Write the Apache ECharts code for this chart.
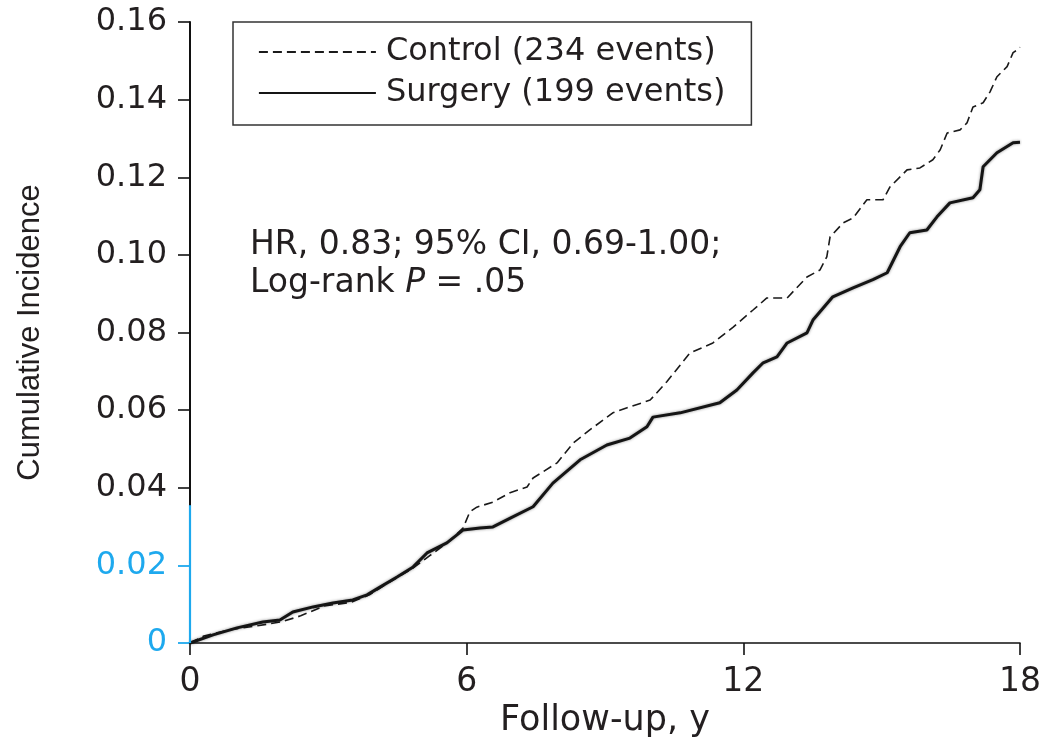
<!DOCTYPE html>
<html>
<head>
<meta charset="utf-8">
<script src="https://cdn.jsdelivr.net/npm/echarts@6/dist/echarts.min.js"></script>
<style>
html,body{margin:0;padding:0;background:#fff;}
#chart{width:1045px;height:737px;}
</style>
</head>
<body>
<div id="chart"></div>
<script>
// ---- data ----
const seriesNames = ['Control (234 events)', 'Surgery (199 events)'];
const xTicks = [0, 6, 12, 18];
const yTicks = [0, 0.02, 0.04, 0.06, 0.08, 0.10, 0.12, 0.14, 0.16];
const controlData = [
  [0,0],[0.3,0.0018],[0.9,0.0035],[1.5,0.0045],[2.0,0.0055],[2.4,0.0070],[2.9,0.0095],
  [3.5,0.0105],[3.9,0.0125],[4.3,0.0155],[4.8,0.019],[5.2,0.0225],[5.6,0.026],[5.92,0.0296],
  [6.07,0.0338],[6.22,0.0350],[6.57,0.0363],[6.94,0.0387],[7.31,0.0402],[7.44,0.0425],
  [7.96,0.0464],[8.31,0.0515],[8.67,0.0549],[9.17,0.0593],[9.48,0.0606],[9.98,0.0626],
  [10.34,0.0673],[10.84,0.0747],[11.34,0.0773],[11.78,0.0814],[12.21,0.0858],[12.51,0.0889],
  [12.95,0.0889],[13.38,0.0943],[13.66,0.0961],[13.81,0.0995],[13.88,0.1046],[14.16,0.1082],
  [14.38,0.1095],[14.68,0.1142],[15.03,0.1142],[15.18,0.1175],[15.55,0.1219],[15.83,0.1224],
  [16.11,0.1245],[16.27,0.1271],[16.42,0.1314],[16.70,0.1322],[16.85,0.1340],[16.98,0.1381],
  [17.20,0.1392],[17.35,0.1420],[17.50,0.1459],[17.72,0.1485],[17.85,0.1521],[17.94,0.1528],
  [18.0,0.1535]
];
const surgeryData = [
  [0,0],[0.5,0.0021],[1.02,0.0039],[1.58,0.0054],[1.95,0.0059],[2.23,0.0080],[2.67,0.0093],
  [3.10,0.0103],[3.53,0.0111],[3.84,0.0124],[4.12,0.0144],[4.49,0.0170],[4.84,0.0196],
  [5.14,0.0232],[5.57,0.0258],[5.92,0.0291],[6.29,0.0296],[6.57,0.0299],[7.00,0.0325],
  [7.44,0.0351],[7.87,0.0412],[8.46,0.0472],[9.04,0.0510],[9.54,0.0528],[9.91,0.0557],
  [10.04,0.0582],[10.63,0.0593],[11.49,0.0619],[11.86,0.0652],[12.21,0.0696],[12.43,0.0722],
  [12.73,0.0737],[12.95,0.0773],[13.38,0.0799],[13.51,0.0832],[13.94,0.0892],[14.38,0.0915],
  [14.81,0.0936],[15.12,0.0954],[15.40,0.1021],[15.61,0.1057],[15.98,0.1064],[16.20,0.1098],
  [16.48,0.1134],[16.98,0.1147],[17.13,0.1168],[17.20,0.1227],[17.50,0.1263],[17.85,0.1289],
  [18.0,0.1290]
];
const blueRange = [0, 0.0355];      // highlighted segment of the y axis
const blueTicks = [0, 0.02];
const annotationLines = ['HR, 0.83; 95% CI, 0.69-1.00;', 'Log-rank ', 'P', ' = .05'];

// ---- styling ----
const FONT = 'DejaVu Sans';
const TEXT = '#231f20';
const BLUE = '#1ea9ee';

const chart = echarts.init(document.getElementById('chart'), null, {renderer: 'canvas'});
const blackTicks = yTicks.filter(v => blueTicks.indexOf(v) < 0);

const option = {
  animation: false,
  backgroundColor: '#fff',
  grid: {left: 190, right: 25, top: 22, bottom: 94, containLabel: false, outerBoundsMode: 'none'},
  legend: {
    data: seriesNames,
    orient: 'vertical',
    left: 233, top: 22,
    padding: [14, 26, 16, 25],
    itemWidth: 117, itemHeight: 14, itemGap: 9,
    borderColor: '#333', borderWidth: 1.5,
    lineStyle: {width: 1.8, shadowBlur: 0},
    itemStyle: {color: 'rgba(0,0,0,0)', borderWidth: 0, opacity: 0},
    textStyle: {fontFamily: FONT, fontSize: 32, color: TEXT, lineHeight: 32, padding: [0,0,0,5]},
    selectedMode: false
  },
  xAxis: {
    type: 'value', min: 0, max: 18, interval: 6,
    name: 'Follow-up, y', nameLocation: 'middle', nameGap: 57,
    nameTextStyle: {fontFamily: FONT, fontSize: 35, color: TEXT},
    axisLine: {lineStyle: {color: '#111', width: 1.6}},
    axisTick: {show: true, inside: false, length: 12, lineStyle: {color: '#111', width: 1.6}},
    axisLabel: {fontFamily: FONT, fontSize: 33, color: TEXT, margin: 23,
      formatter: v => String(v)},
    splitLine: {show: false}
  },
  yAxis: [{
    type: 'value', min: 0, max: 0.16, interval: 0.02,
    name: 'Cumulative Incidence', nameLocation: 'middle', nameGap: 144, nameRotate: 90,
    nameTextStyle: {fontFamily: 'Liberation Sans', fontSize: 31, color: TEXT},
    axisLine: {show: true, lineStyle: {color: '#111', width: 2}},
    axisTick: {show: true, length: 12, customValues: blackTicks, lineStyle: {color: '#111', width: 1.6}},
    axisLabel: {fontFamily: FONT, fontSize: 32, margin: 23,
      color: v => (Number(v) <= 0.02 + 1e-9 ? BLUE : TEXT),
      formatter: v => (v === 0 ? '0' : v.toFixed(2))},
    splitLine: {show: false}
  }, {
    type: 'value', min: 0, max: 0.16, interval: 0.02, position: 'left',
    axisLine: {show: false},
    axisTick: {show: true, length: 12, customValues: blueTicks, lineStyle: {color: BLUE, width: 1.8}},
    axisLabel: {show: false},
    splitLine: {show: false}
  }],
  graphic: [{
    type: 'text', left: 250, top: 226, z: 10,
    style: {
      text: annotationLines[0] + '\n' + annotationLines[1] + '{i|' + annotationLines[2] + '}' + annotationLines[3],
      font: '33px ' + FONT, fill: TEXT, lineHeight: 38,
      rich: {i: {fontStyle: 'italic', fontFamily: FONT, fontSize: 33, fill: TEXT, lineHeight: 38}}
    }
  }],
  series: [{
    name: seriesNames[0], type: 'line', data: controlData, yAxisIndex: 0,
    symbol: 'none', showSymbol: false, z: 3,
    lineStyle: {color: '#1a1a1a', width: 1.6, type: [9, 5]},
    itemStyle: {color: '#1a1a1a'}
  }, {
    name: seriesNames[1], type: 'line', data: surgeryData, yAxisIndex: 0,
    symbol: 'none', showSymbol: false, z: 4, clip: false,
    lineStyle: {color: '#151515', width: 3, shadowBlur: 3, shadowColor: 'rgba(0,0,0,0.45)'},
    itemStyle: {color: '#151515'},
    markLine: {
      silent: true, symbol: ['none', 'none'], label: {show: false}, animation: false,
      lineStyle: {color: BLUE, width: 2.2, type: 'solid', shadowBlur: 0},
      emphasis: {disabled: true},
      data: [[{coord: [0, blueRange[0]]}, {coord: [0, blueRange[1]]}]]
    }
  }]
};
chart.setOption(option);
</script>
</body>
</html>
